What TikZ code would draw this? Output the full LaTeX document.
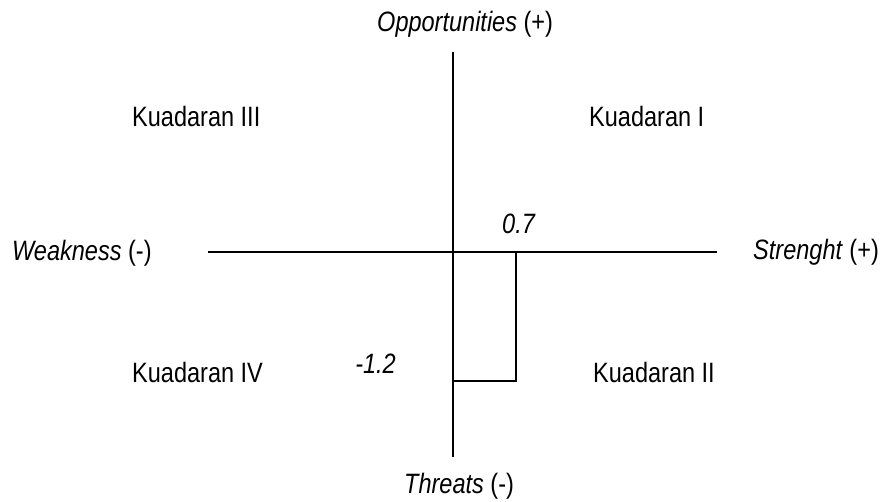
\documentclass[tikz,border=0pt]{standalone}
\usepackage{fontspec}
\setmainfont{Liberation Sans}[FakeStretch=0.84]
\begin{document}
\begin{tikzpicture}[x=1pt,y=-1pt,
  lbl/.style={inner sep=0pt,anchor=base west,font=\fontsize{28}{32}\selectfont},
  axis/.style={line width=1.6pt,black}]
\useasboundingbox (0,0) rectangle (880,502);
% axes
\coordinate (top) at (453,52);
\coordinate (bot) at (453,457);
\coordinate (left) at (208,252);
\coordinate (right) at (717,252);
\coordinate (o) at (453,252);
\coordinate (s) at (516,252);
\coordinate (sw) at (516,381);
\coordinate (w) at (453,381);
\draw[axis] (top) -- (bot);
\draw[axis] (left) -- (right);
\draw[axis] (s) -- (sw) -- (w);
% labels
\node[lbl] (opp) at (377,32) {\textit{Opportunities} (+)};
\node[lbl] (weak) at (12,261) {\textit{Weakness} (-)};
\node[lbl] (str) at (753,260) {\textit{Strenght} (+)};
\node[lbl] (thr) at (404,493) {\textit{Threats} (-)};
\node[lbl] (k3) at (132,127) {Kuadaran III};
\node[lbl] (k1) at (589,127) {Kuadaran I};
\node[lbl] (k4) at (132,382) {Kuadaran IV};
\node[lbl] (k2) at (593,382) {Kuadaran II};
\node[lbl] (v1) at (502,234) {\textit{0.7}};
\node[lbl,anchor=base east] (v2) at (396,373) {\textit{-1.2}};
\end{tikzpicture}
\end{document}
